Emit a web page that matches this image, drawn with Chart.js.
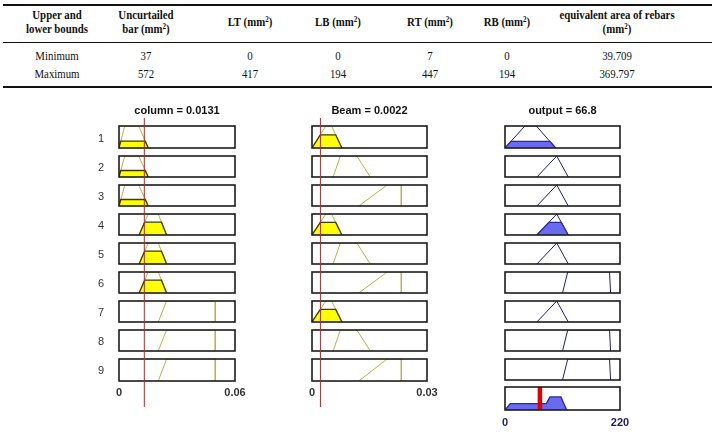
<!DOCTYPE html>
<html>
<head>
<meta charset="utf-8">
<script src="https://cdn.jsdelivr.net/npm/chart.js@4"></script>
<style>
body { margin: 0; background: #fff; width: 715px; height: 434px; position: relative; overflow: hidden; }
canvas { position: absolute; }
.cell { position: absolute; transform: translate(-50%, -50%) scaleX(0.94); white-space: nowrap; text-align: center;
        font: 11.5px/14px "Liberation Serif", "Times New Roman", serif; color: #111; }
.cell.head { font-weight: bold; }
.cell sup { font-size: 7.5px; line-height: 0; vertical-align: 4px; }
.rule { position: absolute; left: 3px; width: 709px; background: #111; }
.rowlab { position: absolute; transform: translate(-50%, -50%); font: 11px "Liberation Sans", Arial, sans-serif; color: #333; }
</style>
</head>
<body>
<script>
// ---- table data ----
const tableHeaders = ['Upper and<br>lower bounds', 'Uncurtailed<br>bar (mm<sup>2</sup>)', 'LT (mm<sup>2</sup>)',
  'LB (mm<sup>2</sup>)', 'RT (mm<sup>2</sup>)', 'RB (mm<sup>2</sup>)', 'equivalent area of rebars<br>(mm<sup>2</sup>)']
const minRow = ['Minimum', '37', '0', '0', '7', '0', '39.709']
const maxRow = ['Maximum', '572', '417', '194', '447', '194', '369.797']

// ---- fuzzy rule viewer data ----
const ruleLabels = ['1', '2', '3', '4', '5', '6', '7', '8', '9']
const inputNames = ['column', 'Beam']
const inputValues = [0.0131, 0.0022]
const inputRanges = [[0, 0.06], [0, 0.03]]
const outputName = 'output'
const outputValue = 66.8
const outputRange = [0, 220]
const axisTicks = [['0', '0.06'], ['0', '0.03'], ['0', '220']]

// membership functions per rule, [a, b, c, d]
const columnMF = [
  [0, 0.003, 0.0102, 0.0151], [0, 0.003, 0.0102, 0.0151], [0, 0.003, 0.0102, 0.0151],
  [0.0104, 0.0151, 0.0203, 0.0246], [0.0104, 0.0151, 0.0203, 0.0246], [0.0104, 0.0151, 0.0203, 0.0246],
  [0.0203, 0.0246, 0.0498, 0.0498], [0.0203, 0.0246, 0.0498, 0.0498], [0.0203, 0.0246, 0.0498, 0.0498]]
const columnLevel = [0.31, 0.31, 0.31, 0.61, 0.61, 0.61, 0, 0, 0]

const beamMF = [
  [0, 0.0036, 0.0051, 0.0078], [0.0055, 0.0074, 0.0117, 0.0152], [0.0122, 0.0196, 0.0233, 0.0233],
  [0, 0.0036, 0.0051, 0.0078], [0.0055, 0.0074, 0.0117, 0.0152], [0.0122, 0.0196, 0.0233, 0.0233],
  [0, 0.0036, 0.0051, 0.0078], [0.0055, 0.0074, 0.0117, 0.0152], [0.0122, 0.0196, 0.0233, 0.0233]]
const beamLevel = [0.6, 0, 0, 0.6, 0, 0, 0.6, 0, 0]

const outputMF = [
  [0, 38, 60, 97], [61, 99, 99, 121], [61, 99, 99, 121],
  [61, 99, 99, 121], [61, 99, 99, 121], [110, 120, 200, 202],
  [61, 99, 99, 121], [110, 120, 200, 202], [110, 120, 200, 202]]
const outputLevel = [0.3, 0, 0, 0.6, 0, 0, 0, 0, 0]

const aggregateX = [0, 10, 79, 86, 107, 118]
const aggregateY = [0, 0.28, 0.28, 0.57, 0.57, 0]

// ---- table ----
const colX = [57, 146, 250, 338, 430, 507, 617]
function addCell(html, x, y, cls) {
  const d = document.createElement('div')
  d.className = 'cell ' + (cls || '')
  d.innerHTML = html
  d.style.left = x + 'px'
  d.style.top = y + 'px'
  document.body.appendChild(d)
}
function addRule(y, h) {
  const d = document.createElement('div')
  d.className = 'rule'
  d.style.top = y + 'px'
  d.style.height = h + 'px'
  document.body.appendChild(d)
}
addRule(4, 2)
addRule(42, 1)
addRule(86, 2)
tableHeaders.forEach((h, i) => addCell(h, colX[i], 22, 'head'))
minRow.forEach((v, i) => addCell(v, colX[i], 56))
maxRow.forEach((v, i) => addCell(v, colX[i], 74))

// ---- rule viewer ----
const PAD = 20
const colLeft = [119, 312, 505]
const colWidth = [116, 115, 115]
const rowTop = 127, rowStep = 29, boxH = 21
const inColors = { line: '#b4b446', fill: '#ffff00', edge: '#3c3c00' }
const outColors = { line: '#1e1e6e', fill: '#6a6af0', edge: '#2a2a9a' }

const frame = {
  id: 'frame',
  afterDatasetsDraw(chart) {
    const { ctx, chartArea: a } = chart
    ctx.save()
    ctx.strokeStyle = '#1c1c1c'
    ctx.lineWidth = 1.6
    ctx.strokeRect(a.left, a.top, a.right - a.left, a.bottom - a.top)
    ctx.restore()
  }
}

function mfPoints(m) {
  return [{ x: m[0], y: 0 }, { x: m[1], y: 1 }, { x: m[2], y: 1 }, { x: m[3], y: 0 }]
}
function clipPoints(m, h) {
  return [{ x: m[0], y: 0 }, { x: m[0] + h * (m[1] - m[0]), y: h },
          { x: m[3] - h * (m[3] - m[2]), y: h }, { x: m[3], y: 0 }]
}

function mfDatasets(m, h, colors) {
  const ds = []
  if (h > 0) ds.push({ data: clipPoints(m, h), borderColor: colors.edge, borderWidth: 1.3,
    backgroundColor: colors.fill, fill: 'origin', pointRadius: 0 })
  ds.push({ data: mfPoints(m), borderColor: colors.line, borderWidth: 1, fill: false, pointRadius: 0 })
  return ds
}

function makeChart(col, top, height, range, datasets, opts) {
  const cv = document.createElement('canvas')
  cv.width = colWidth[col] + 2 * PAD
  cv.height = height
  cv.style.left = (colLeft[col] - PAD) + 'px'
  cv.style.top = top + 'px'
  document.body.appendChild(cv)
  let xScale = { type: 'linear', min: range[0], max: range[1], display: false }
  if (opts.axis) {
    xScale = {
      type: 'linear', min: range[0], max: range[1],
      grid: { display: false, drawTicks: false }, border: { display: false },
      afterBuildTicks: s => { s.ticks = [{ value: range[0] }, { value: range[1] }] },
      ticks: { padding: opts.axis.padding, maxRotation: 0, color: opts.axis.color,
        font: { family: 'Liberation Sans', size: 11, weight: 'bold', lineHeight: 1 },
        callback: (v, i) => axisTicks[col][i] }
    }
  }
  return new Chart(cv, {
    type: 'line',
    data: { datasets },
    options: {
      responsive: false, animation: false, events: [],
      layout: { padding: { left: PAD, right: PAD, top: opts.padY, bottom: opts.padY } },
      plugins: {
        legend: { display: false }, tooltip: { enabled: false },
        title: opts.title ? { display: true, text: opts.title, color: '#111',
          font: { family: 'Liberation Sans', size: 11, weight: 'bold', lineHeight: 1 },
          padding: { top: 0, bottom: 10 } } : { display: false }
      },
      scales: { x: xScale, y: { min: 0, max: 1, display: false } }
    },
    plugins: opts.noFrame ? [] : [frame]
  })
}

const ranges = [inputRanges[0], inputRanges[1], outputRange]
const titles = [inputNames[0] + ' = ' + inputValues[0], inputNames[1] + ' = ' + inputValues[1],
  outputName + ' = ' + outputValue]

for (let col = 0; col < 3; col++) {
  for (let r = 0; r < ruleLabels.length; r++) {
    const boxTop = rowTop + r * rowStep
    const hasTitle = r === 0
    const hasAxis = r === ruleLabels.length - 1 && col < 2
    let ds
    if (col === 0) ds = mfDatasets(columnMF[r], columnLevel[r], inColors)
    else if (col === 1) ds = mfDatasets(beamMF[r], beamLevel[r], inColors)
    else ds = mfDatasets(outputMF[r], outputLevel[r], outColors)
    const top = boxTop - 1 - (hasTitle ? 22 : 0)
    const height = boxH + 2 + (hasTitle ? 22 : 0) + (hasAxis ? 11 + 12 : 0)
    makeChart(col, top, height, ranges[col], ds, {
      padY: 1, title: hasTitle ? titles[col] : null,
      axis: hasAxis ? { padding: 6, color: '#333' } : null
    })
  }
}

// aggregated output with defuzzified value
{
  const boxTop = rowTop + 9 * rowStep - 1
  const ds = [
    { data: [{ x: outputValue, y: 0 }, { x: outputValue, y: 1 }], borderColor: '#e00000', borderWidth: 4.5, pointRadius: 0 },
    { data: aggregateX.map((x, i) => ({ x, y: aggregateY[i] })), borderColor: outColors.edge, borderWidth: 1.3,
      backgroundColor: outColors.fill, fill: 'origin', pointRadius: 0 }
  ]
  makeChart(2, boxTop - 1, boxH + 2 + 11 + 14, outputRange, ds, { padY: 1, axis: { padding: 7, color: '#1c1c6a' } })
}

// input value lines across the rules
for (let col = 0; col < 2; col++) {
  const ds = [{ data: [{ x: inputValues[col], y: 0 }, { x: inputValues[col], y: 1 }],
    borderColor: '#a53030', borderWidth: 1, pointRadius: 0 }]
  makeChart(col, 118, 289, ranges[col], ds, { padY: 0, noFrame: true })
}

// rule numbers
ruleLabels.forEach((t, r) => {
  const d = document.createElement('div')
  d.className = 'rowlab'
  d.textContent = t
  d.style.left = '101px'
  d.style.top = (rowTop + r * rowStep + boxH / 2) + 'px'
  document.body.appendChild(d)
})
</script>
</body>
</html>
